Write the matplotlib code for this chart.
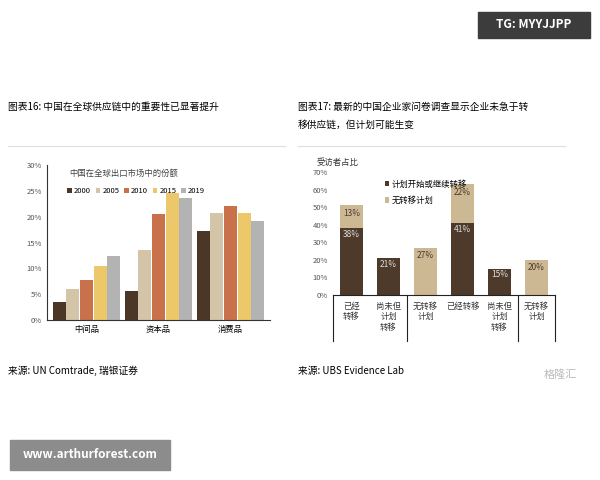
import matplotlib
matplotlib.use("Agg")
import matplotlib.pyplot as plt
import numpy as np
from matplotlib.patches import Rectangle

plt.rcParams['font.family'] = ['Noto Sans CJK SC', 'Noto Sans CJK JP', 'DejaVu Sans']

# Left chart data
left_cats = ["中间品", "资本品", "消费品"]
years = ["2000", "2005", "2010", "2015", "2019"]
share_2000 = [3.5, 5.6, 17.2]
share_2005 = [6.0, 13.5, 20.8]
share_2010 = [7.7, 20.5, 22.0]
share_2015 = [10.4, 24.6, 20.8]
share_2019 = [12.4, 23.6, 19.1]
left_ticks = ["0%", "5%", "10%", "15%", "20%", "25%", "30%"]

# Right chart data
right_cats = ["已经\n转移", "尚未但\n计划\n转移", "无转移\n计划", "已经转移", "尚未但\n计划\n转移", "无转移\n计划"]
started = [38, 21, 0, 41, 15, 0]
no_plan = [13, 0, 27, 22, 0, 20]
right_ticks = ["0%", "10%", "20%", "30%", "40%", "50%", "60%", "70%"]

fig = plt.figure(figsize=(6, 4.8), dpi=100)
fig.patch.set_facecolor("white")
def fy(py): return 1 - py / 480
def fx(px): return px / 600

# Header box
fig.patches.append(Rectangle((fx(478), fy(38)), fx(112), 26/480, transform=fig.transFigure, color="#3c3c3c"))
fig.text(fx(534), fy(25), "TG: MYYJJPP", color="white", fontsize=8.5, ha="center", va="center", weight="bold")

# Titles
fig.text(fx(8), fy(107), "图表16: 中国在全球供应链中的重要性已显著提升", fontsize=7, va="center")
fig.text(fx(298), fy(107), "图表17: 最新的中国企业家问卷调查显示企业未急于转", fontsize=7, va="center")
fig.text(fx(298), fy(125), "移供应链，但计划可能生变", fontsize=7, va="center")
for x0, x1 in [(8, 285), (298, 565)]:
    fig.add_artist(plt.Line2D([fx(x0), fx(x1)], [fy(146), fy(146)], color="#dddddd", lw=0.8))

# Left chart
axl = fig.add_axes([fx(47), fy(320), fx(223), 155/480])
colors = ["#4a3728", "#d4c4a8", "#c8714a", "#ecc86a", "#b3b3b3"]
series = [share_2000, share_2005, share_2010, share_2015, share_2019]
x = np.arange(len(left_cats))
w = 0.19
for i, (s, c, y) in enumerate(zip(series, colors, years)):
    axl.bar(x + (i - 2) * w, s, w * 0.95, color=c, label=y)
axl.set_ylim(0, 30)
axl.set_xlim(-0.55, 2.55)
axl.set_yticks(range(0, 31, 5))
axl.set_yticklabels(left_ticks, fontsize=5.5, color="#555555")
axl.set_xticks(x)
axl.set_xticklabels(left_cats, fontsize=6)
axl.tick_params(length=0)
for s in ["top", "right"]:
    axl.spines[s].set_visible(False)
axl.spines["left"].set_color("#333333")
axl.spines["bottom"].set_color("#333333")
axl.text(0.1, 0.93, "中国在全球出口市场中的份额", transform=axl.transAxes, fontsize=6, color="#444444")
axl.legend(loc="upper left", bbox_to_anchor=(0.06, 0.9), ncol=5, fontsize=5.5, frameon=False,
           handlelength=0.6, handleheight=0.6, columnspacing=0.6, handletextpad=0.3)

# Right chart
axr = fig.add_axes([fx(333), fy(295), fx(222), 123/480])
xr = np.arange(len(right_cats))
dark, light = "#4d3a2b", "#cdb894"
axr.bar(xr, started, 0.62, color=dark, label="计划开始或继续转移")
axr.bar(xr, no_plan, 0.62, bottom=started, color=light, label="无转移计划")
for i in xr:
    if started[i]:
        axr.text(i, started[i] - 5, f"{started[i]}%", ha="center", fontsize=6, color="#dddddd")
    if no_plan[i]:
        axr.text(i, started[i] + no_plan[i] - 6, f"{no_plan[i]}%", ha="center", fontsize=6, color="#4d3a2b")
axr.set_ylim(0, 70)
axr.set_xlim(-0.5, 5.5)
axr.set_yticks(range(0, 71, 10))
axr.set_yticklabels(right_ticks, fontsize=5.5, color="#555555")
axr.set_xticks([])
axr.tick_params(length=0)
for s in ["top", "right", "left"]:
    axr.spines[s].set_visible(False)
axr.spines["bottom"].set_color("#222222")
for xv in [-0.5, 1.5, 4.5, 5.5]:
    axr.plot([xv, xv], [0, -26], color="#222222", lw=0.8, clip_on=False)
for i, c in enumerate(right_cats):
    axr.text(i, -4, c, ha="center", va="top", fontsize=6, color="#333333", linespacing=1.2)
axr.text(-0.95, 74, "受访者占比", fontsize=6, color="#333333")
axr.legend(loc="upper left", bbox_to_anchor=(0.2, 1.0), fontsize=6, frameon=False,
           handlelength=0.5, handleheight=0.6, handletextpad=0.3, labelspacing=0.9)

# Sources
fig.text(fx(8), fy(371), "来源: UN Comtrade, 瑞银证券", fontsize=7, va="center")
fig.text(fx(298), fy(371), "来源: UBS Evidence Lab", fontsize=7, va="center")
fig.text(fx(560), fy(375), "格隆汇", fontsize=8, color="#bbbbbb", va="center", ha="center")

# Footer box
fig.patches.append(Rectangle((fx(10), fy(470)), fx(160), 30/480, transform=fig.transFigure, color="#8c8c8c"))
fig.text(fx(90), fy(455), "www.arthurforest.com", color="white", fontsize=8.5, ha="center", va="center", weight="bold")

fig.savefig("out.png", dpi=100)
